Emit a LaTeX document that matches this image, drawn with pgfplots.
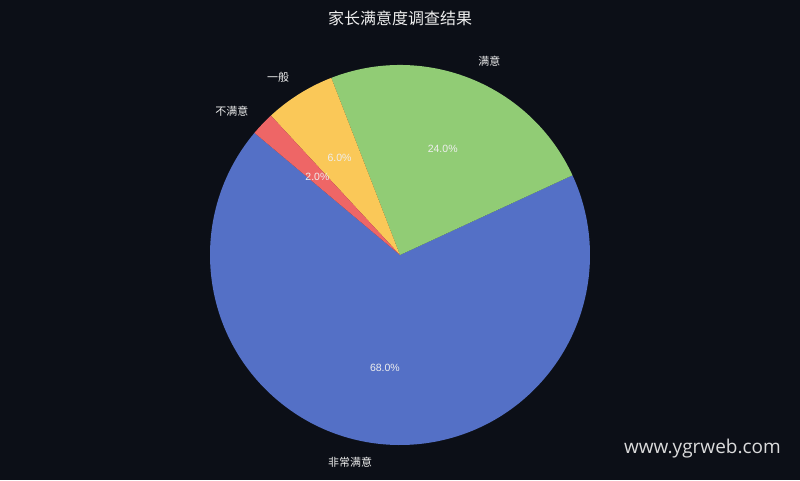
\documentclass[border=0pt]{standalone}
\usepackage{pgfplots}
\usepackage{pgfplotstable}
\pgfplotsset{compat=1.18}
\usepackage{fontspec}
\setmainfont{Liberation Sans}
\newfontfamily\cjk{Noto Sans CJK SC}
\newfontfamily\wm{Open Sans}

\definecolor{bgcol}{HTML}{0C0F17}
\definecolor{txtcol}{HTML}{EEEEEE}
\definecolor{pieA}{HTML}{5470C6}
\definecolor{pieB}{HTML}{91CC75}
\definecolor{pieC}{HTML}{FAC858}
\definecolor{pieD}{HTML}{EE6666}

% label, share in percent, colour
\pgfplotstableread[col sep=comma]{
label,value,colour
非常满意,68,pieA
满意,24,pieB
一般,6,pieC
不满意,2,pieD
}\piedata

\begin{document}
\begin{tikzpicture}
% build the wedges from the table, counterclockwise from 140 deg
\def\wedges{}
\def\angA{140}
\pgfplotstablegetrowsof{\piedata}
\pgfmathtruncatemacro\nrows{\pgfplotsretval-1}
\pgfplotsforeachungrouped \i in {0,...,\nrows}{%
  \pgfplotstablegetelem{\i}{value}\of\piedata \let\val\pgfplotsretval
  \pgfplotstablegetelem{\i}{label}\of\piedata \let\lab\pgfplotsretval
  \pgfplotstablegetelem{\i}{colour}\of\piedata \let\col\pgfplotsretval
  \pgfmathsetmacro\angB{\angA+3.6*\val}
  \pgfmathsetmacro\midang{(\angA+\angB)/2}
  \pgfmathsetmacro\lx{400+209*cos(\midang)}
  \pgfmathsetmacro\ly{225+209*sin(\midang)}
  \pgfmathsetmacro\px{400+114*cos(\midang)}
  \pgfmathsetmacro\py{225+114*sin(\midang)}
  \pgfmathparse{cos(\midang)>0 ? "west" : "east"}\let\anc\pgfmathresult
  \xdef\wedges{\unexpanded\expandafter{\wedges}%
    \noexpand\fill[\col] (axis cs:400,225) -- ++(\angA:190pt)
      arc[start angle=\angA, end angle=\angB, radius=190pt] -- cycle;
    \noexpand\node[anchor=\anc, inner sep=0pt, text=txtcol,
      font=\noexpand\cjk\noexpand\fontsize{11}{13}\noexpand\selectfont]
      at (axis cs:\lx,\ly) {\lab};
    \noexpand\node[inner sep=0pt, text=txtcol,
      font=\noexpand\fontsize{10.5}{12}\noexpand\selectfont]
      at (axis cs:\px,\py) {\noexpand\pgfmathprintnumber[fixed,fixed zerofill,precision=1,assume math mode=true]{\val}\noexpand\%};
  }%
  \global\let\angA\angB
}
\begin{axis}[
  width=800pt, height=480pt,
  scale only axis,
  xmin=0, xmax=800,
  ymin=0, ymax=480,
  hide axis,
  clip=false,
]
\fill[bgcol] (axis cs:0,0) rectangle (axis cs:800,480);
\wedges
\node[text=txtcol, font=\cjk\fontsize{16}{18}\selectfont]
  at (axis cs:400,462) {家长满意度调查结果};
\node[anchor=east, inner sep=0pt, text=white!85!bgcol,
  font=\wm\fontsize{19}{23}\selectfont]
  at (axis cs:781,31) {www.ygrweb.com};
\end{axis}
\end{tikzpicture}
\end{document}
